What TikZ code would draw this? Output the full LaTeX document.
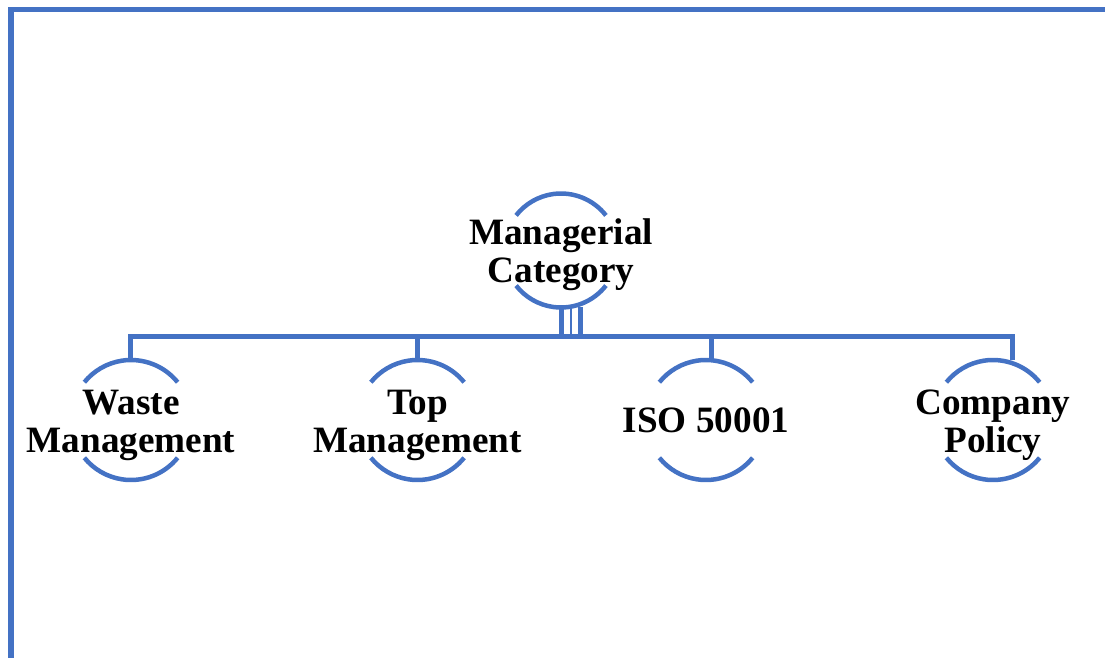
\documentclass[tikz,border=0pt]{standalone}
\usepackage{fontspec}
\setmainfont{Liberation Serif}
\definecolor{accent}{HTML}{4472C4}
\begin{document}
\begin{tikzpicture}[x=1pt,y=-1pt,
  frameline/.style={draw=accent,line width=5.5pt},
  link/.style={draw=accent,line width=5pt},
  ring/.style={draw=accent,line width=4.5pt},
  label/.style={inner sep=0pt,align=center,font=\fontsize{37.2}{38}\selectfont\bfseries}]
\useasboundingbox (0,0) rectangle (1105,658);

% outer frame (left and top edges)
\coordinate (fbl) at (11,660);
\coordinate (ftl) at (11,9.5);
\coordinate (ftr) at (1107,9.5);
\draw[frameline] (fbl) -- (ftl) -- (ftr);

% circle centres
\coordinate (root) at (561,250.5);
\coordinate (waste) at (131,420);
\coordinate (top) at (417.5,420);
\coordinate (iso) at (706,420);
\coordinate (policy) at (993,420);

% ring arcs around the labels
\draw[ring] (root) ++(38:57) arc[start angle=38,end angle=142,radius=57];
\draw[ring] (root) ++(-38:57) arc[start angle=-38,end angle=-142,radius=57];
\foreach \c in {waste,top,iso,policy}{
  \draw[ring] (\c) ++(39:60) arc[start angle=39,end angle=141,radius=60];
  \draw[ring] (\c) ++(-39:60) arc[start angle=-39,end angle=-141,radius=60];
}

% tree connectors
\coordinate (rootbot) at (561,307);
\coordinate (busL) at (130.5,336.5);
\coordinate (busR) at (1012.5,336.5);
\coordinate (jw) at (130.5,360);
\coordinate (jt) at (417.5,360);
\coordinate (ji) at (711,360);
\coordinate (jp) at (1012.5,360);
\draw[link] (jw) -- (busL) -- (busR) -- (jp);
\draw[link] (jt) -- (jt |- busL);
\draw[link] (ji) -- (ji |- busL);
\draw[link] (rootbot) -- (rootbot |- busL);
\draw[draw=accent,line width=2pt] ([xshift=9.5pt]rootbot) -- ([xshift=9.5pt]rootbot |- busL);
\draw[link] ([xshift=19pt]rootbot) -- ([xshift=19pt]rootbot |- busL);

% labels
\node[label] (rootlbl) at ([yshift=-4pt]root) {Managerial\\Category};
\node[label] (wastelbl) at ([yshift=-5pt]waste) {Waste\\Management};
\node[label] (toplbl) at ([yshift=-5pt]top) {Top\\Management};
\node[label] (isolbl) at ([yshift=0pt]iso) {ISO 50001};
\node[label] (policylbl) at ([yshift=-5pt]policy) {Company\\Policy};
\end{tikzpicture}
\end{document}
